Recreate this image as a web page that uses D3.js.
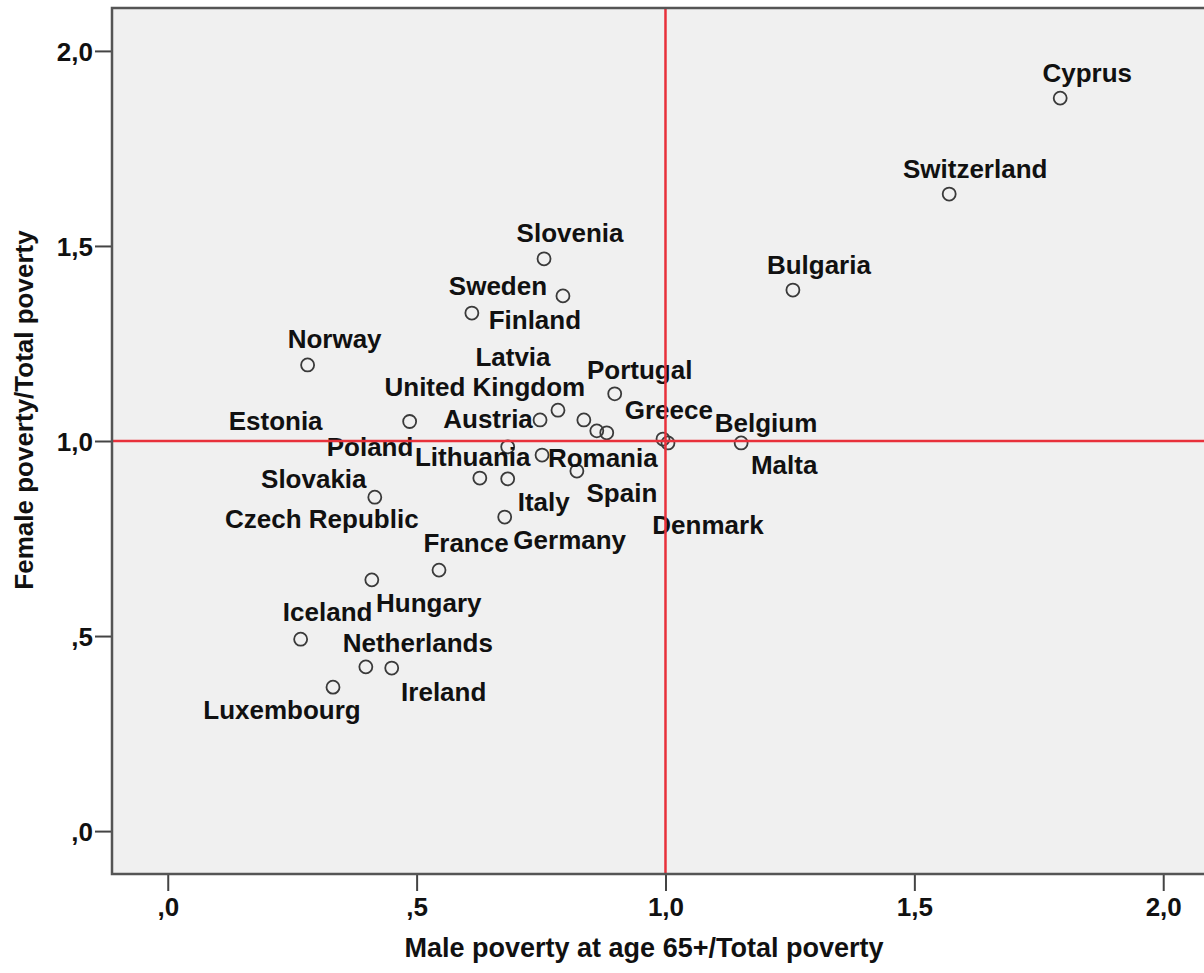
<!DOCTYPE html>
<html>
<head>
<meta charset="utf-8">
<script src="https://cdn.jsdelivr.net/npm/d3@7"></script>
<style>
  body { margin: 0; background: #ffffff; }
  svg { display: block; }
  text { font-family: "Liberation Sans", Arial, sans-serif; font-weight: bold; fill: #111; }
</style>
</head>
<body>
<svg id="chart" width="1204" height="973"></svg>
<script>
// Poverty ratios of people aged 65+ relative to total poverty, by country
const countries = [
  "Cyprus", "Switzerland", "Bulgaria", "Slovenia", "Sweden", "Finland", "Norway",
  "Portugal", "Latvia", "United Kingdom", "Austria", "Estonia", "Greece", "Romania",
  "Belgium", "Malta", "Denmark", "Lithuania", "Poland", "Spain", "Czech Republic",
  "Italy", "Germany", "Slovakia", "France", "Hungary", "Iceland", "Netherlands",
  "Ireland", "Luxembourg"
];
const maleRatio = [
  1.793, 1.570, 1.256, 0.756, 0.794, 0.611, 0.281,
  0.898, 0.784, 0.836, 0.748, 0.486, 0.882, 0.862,
  0.995, 1.152, 1.005, 0.683, 0.752, 0.822, 0.627,
  0.683, 0.677, 0.416, 0.545, 0.410, 0.267, 0.398,
  0.450, 0.332
];
const femaleRatio = [
  1.879, 1.633, 1.387, 1.467, 1.372, 1.328, 1.195,
  1.121, 1.079, 1.054, 1.054, 1.050, 1.021, 1.026,
  1.005, 0.995, 0.995, 0.985, 0.964, 0.923, 0.905,
  0.903, 0.805, 0.856, 0.669, 0.644, 0.492, 0.421,
  0.418, 0.369
];
const xTicks = [0, 0.5, 1.0, 1.5, 2.0];
const yTicks = [0, 0.5, 1.0, 1.5, 2.0];
const refX = 1.0;
const refY = 1.0;
const xTitle = "Male poverty at age 65+/Total poverty";
const yTitle = "Female poverty/Total poverty";

// Label placement relative to each marker (pixels: centre of the text)
const labelDx = [
  27, 26, 26, 26, -65, 63, 27,
  25, -45, -99, -52, -134, 62, 6,
  103, 43, 40, -35, -172, 45, -158,
  36, 65, -61, 27, 57, 27, 52,
  52, -51
];
const labelDy = [
  -25, -25, -25, -26, -10, 7, -26,
  -24, -53, -33, -1, 0, -23, 27,
  -16, 22, 82, 10, -8, 22, 41,
  23, 23, -18, -27, 23, -27, -24,
  24, 23
];

const W = 1204, H = 973;
const plot = { left: 112, top: 8, right: 1212, bottom: 874 };

const x = d3.scaleLinear().domain([-0.112, 2.098]).range([plot.left, plot.right]);
const y = d3.scaleLinear().domain([-0.110, 2.110]).range([plot.bottom, plot.top]);

const fmt = v => {
  const s = d3.format(".1f")(v).replace(".", ",");
  return s.startsWith("0") ? s.slice(1) : s;
};

const svg = d3.select("#chart");

// Plot background
svg.append("rect")
  .attr("x", plot.left).attr("y", plot.top)
  .attr("width", plot.right - plot.left).attr("height", plot.bottom - plot.top)
  .attr("fill", "#f0f0f0");

// Axes
const xAxis = d3.axisBottom(x).tickValues(xTicks).tickFormat(fmt).tickSize(17).tickSizeOuter(0);
const yAxis = d3.axisLeft(y).tickValues(yTicks).tickFormat(fmt).tickSize(17).tickSizeOuter(0);

const gx = svg.append("g").attr("transform", `translate(0,${plot.bottom})`).call(xAxis);
const gy = svg.append("g").attr("transform", `translate(${plot.left},0)`).call(yAxis);
[gx, gy].forEach(g => {
  g.select(".domain").remove();
  g.selectAll(".tick line").attr("stroke", "#444").attr("stroke-width", 2);
  g.selectAll(".tick text")
    .style("font-family", '"Liberation Sans", Arial, sans-serif')
    .style("font-weight", "bold")
    .style("font-size", "26px")
    .attr("fill", "#111");
});
gx.selectAll(".tick text").attr("y", 24).attr("dy", "0.71em");
gy.selectAll(".tick text").attr("x", -19).attr("dy", "0.36em");

// Markers
const pts = countries.map((c, i) => ({ name: c, mx: maleRatio[i], fy: femaleRatio[i], i }));

svg.append("g").selectAll("circle").data(pts).join("circle")
  .attr("cx", d => x(d.mx)).attr("cy", d => y(d.fy))
  .attr("r", 6.5)
  .attr("fill", "none").attr("stroke", "#3a3a3a").attr("stroke-width", 1.8);

// Country labels
svg.append("g").selectAll("text").data(pts).join("text")
  .attr("x", d => x(d.mx) + labelDx[d.i])
  .attr("y", d => y(d.fy) + labelDy[d.i] + 9)
  .attr("text-anchor", "middle")
  .style("font-size", "26px")
  .text(d => d.name);

// Reference lines
svg.append("line")
  .attr("x1", x(refX)).attr("x2", x(refX))
  .attr("y1", plot.top).attr("y2", plot.bottom)
  .attr("stroke", "#e8313b").attr("stroke-width", 2.5);
svg.append("line")
  .attr("x1", plot.left).attr("x2", plot.right)
  .attr("y1", y(refY)).attr("y2", y(refY))
  .attr("stroke", "#e8313b").attr("stroke-width", 2.5);

// Frame
svg.append("rect")
  .attr("x", plot.left).attr("y", plot.top)
  .attr("width", plot.right - plot.left).attr("height", plot.bottom - plot.top)
  .attr("fill", "none").attr("stroke", "#555").attr("stroke-width", 2.5);

// Axis titles
svg.append("text")
  .attr("x", 644).attr("y", 957)
  .attr("text-anchor", "middle")
  .style("font-size", "27px")
  .text(xTitle);

svg.append("text")
  .attr("transform", "translate(33,410) rotate(-90)")
  .attr("text-anchor", "middle")
  .style("font-size", "26px")
  .text(yTitle);
</script>
</body>
</html>
